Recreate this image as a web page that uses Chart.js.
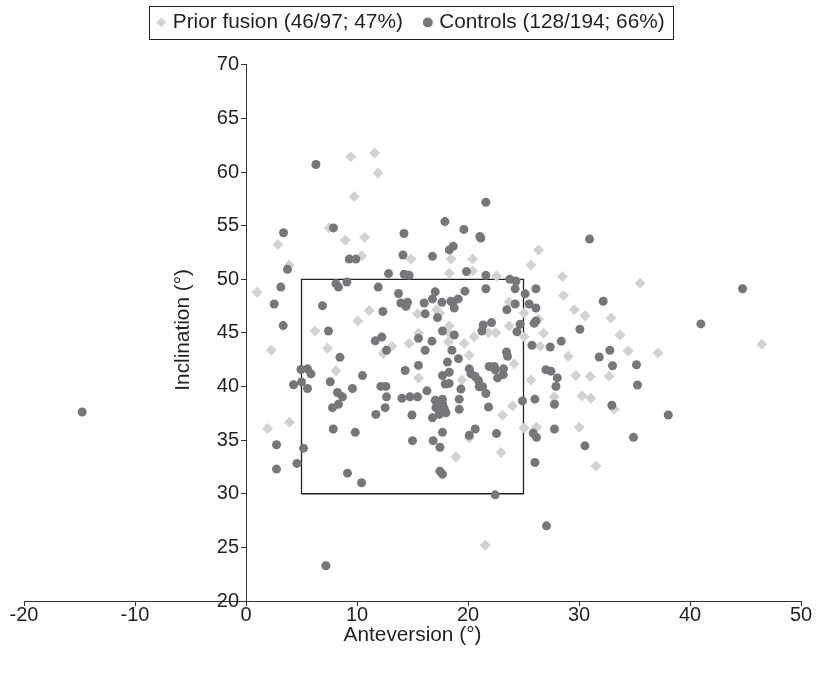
<!DOCTYPE html>
<html>
<head>
<meta charset="utf-8">
<script src="https://cdn.jsdelivr.net/npm/chart.js@4"></script>
<style>
  html, body { margin: 0; padding: 0; background: #fff; }
</style>
</head>
<body>
<canvas id="grafDispersion" width="817" height="674"></canvas>
<script>
// Prior fusion (diamonds)
var priorX = [9.45, 11.58, 11.88, 9.75, 2.87, 7.50, 8.94, 10.68, 10.44, 26.35, 14.86, 18.46, 20.41, 18.31, 3.89, 1.01, 11.10, 10.08, 6.21, 2.27,
  7.34, 12.36, 8.10, 20.41, 22.57, 15.45, 17.16, 17.47, 23.71, 25.06, 18.31, 18.31, 15.54, 14.70, 13.14, 18.24, 19.66, 20.56, 21.85, 22.51,
  23.71, 25.06, 20.11, 24.16, 19.45, 15.54, 24.01, 25.67, 28.51, 35.51, 28.60, 29.57, 30.56, 32.87, 26.35, 26.80, 33.68, 26.50, 34.43, 37.11,
  29.03, 29.72, 31.01, 32.72, 25.67, 27.77, 30.26, 31.07, 33.17, 46.48, 1.94, 3.92, 23.11, 25.06, 20.11, 18.91, 22.96, 21.55, 26.17, 30.02, 31.52];
var priorY = [61.43, 61.78, 59.92, 57.71, 53.24, 54.79, 53.65, 53.93, 52.20, 52.74, 51.88, 51.88, 51.88, 50.56, 51.32, 48.80, 47.10, 46.12, 45.18, 43.38,
  43.57, 43.07, 41.46, 50.78, 50.31, 46.78, 47.16, 46.85, 47.89, 46.85, 45.65, 44.96, 44.96, 44.02, 43.76, 44.17, 44.02, 44.64, 45.02, 45.02,
  45.65, 44.64, 42.91, 42.13, 40.61, 40.80, 38.19, 51.32, 50.25, 49.62, 48.48, 47.16, 46.59, 46.38, 46.28, 44.96, 44.80, 43.76, 43.32, 43.13,
  42.82, 41.02, 40.93, 40.95, 40.61, 39.04, 39.13, 38.91, 37.87, 43.95, 36.08, 36.67, 37.31, 36.14, 35.19, 33.46, 33.84, 25.21, 36.20, 36.20, 32.58];

// Controls (circles)
var controlX = [6.30, 3.38, 7.88, 9.30, 9.90, 21.61, 17.92, 19.63, 21.07, 21.16, 14.23, 18.31, 18.67, 14.14, 16.80, 30.95, 3.74, 12.84, 3.14, 8.10,
  8.33, 9.09, 11.91, 2.54, 6.89, 12.33, 3.35, 7.43, 11.64, 12.24, 12.66, 8.46, 4.95, 5.54, 5.85, 10.50, 4.28, 5.00, 5.54, 7.59,
  9.59, 12.15, 12.60, 8.24, 8.69, 12.66, 7.79, 8.33, 12.54, 14.25, 14.70, 19.86, 21.61, 23.77, 24.32, 24.25, 21.61, 25.15, 13.74, 13.95,
  14.41, 14.55, 16.05, 16.80, 17.05, 17.65, 18.46, 18.62, 19.12, 19.72, 18.76, 16.14, 17.25, 24.25, 23.50, 17.70, 18.76, 15.54, 16.75, 16.14,
  21.25, 21.37, 22.12, 24.41, 24.70, 18.55, 19.14, 23.47, 23.56, 14.34, 15.54, 18.15, 17.70, 18.31, 17.95, 18.31, 20.11, 20.26, 20.65, 20.95,
  21.31, 21.01, 21.61, 21.91, 22.36, 22.45, 23.20, 22.66, 23.17, 19.36, 14.05, 14.77, 15.45, 16.30, 17.05, 17.70, 17.70, 19.21, 17.11, 17.86,
  19.21, 21.85, 24.91, 26.12, 25.51, 26.12, 32.18, 25.96, 26.12, 30.08, 25.76, 27.41, 28.40, 32.78, 31.82, 33.02, 35.18, 27.02, 27.47, 28.04,
  27.92, 35.27, 26.03, 27.79, 32.96, 44.73, 40.98, 11.70, 2.75, 5.18, 7.86, 9.84, 4.59, 2.75, 9.14, 10.41, 7.20, 14.95, 16.80, 17.41,
  18.01, 17.70, 15.00, 16.86, 17.47, 20.65, 20.11, 22.57, 17.47, 17.70, 22.45, 25.87, 26.17, 27.79, 30.53, 34.91, 26.03, 27.07, 38.04, -14.76];
var controlY = [60.70, 54.34, 54.79, 51.88, 51.88, 57.18, 55.38, 54.65, 53.99, 53.84, 54.27, 52.74, 53.08, 52.26, 52.14, 53.75, 50.94, 50.53, 49.27, 49.59,
  49.27, 49.74, 49.27, 47.70, 47.54, 47.00, 45.68, 45.18, 44.26, 44.61, 43.38, 42.72, 41.59, 41.65, 41.18, 41.02, 40.17, 40.43, 39.82, 40.45,
  39.82, 40.01, 40.01, 39.44, 39.04, 39.04, 38.03, 38.35, 38.03, 50.47, 50.37, 50.72, 50.37, 50.00, 49.83, 49.12, 49.12, 48.64, 48.67, 47.79,
  47.47, 47.85, 47.79, 48.17, 48.83, 47.85, 47.95, 47.82, 48.17, 48.89, 47.32, 46.78, 46.43, 47.70, 47.16, 45.18, 44.80, 44.49, 44.23, 43.38,
  45.18, 45.74, 45.96, 45.11, 45.81, 43.38, 42.60, 43.22, 42.82, 41.49, 41.97, 42.28, 41.02, 41.33, 40.24, 40.29, 41.65, 41.18, 40.93, 40.55,
  39.98, 39.98, 39.35, 41.87, 41.87, 41.56, 41.65, 40.80, 41.11, 39.76, 38.91, 39.04, 39.04, 39.60, 38.72, 38.82, 38.40, 38.82, 38.03, 37.93,
  37.87, 38.09, 38.66, 49.12, 47.70, 47.32, 47.95, 45.90, 46.12, 45.34, 43.85, 43.69, 44.23, 43.38, 42.75, 41.94, 42.03, 41.56, 41.43, 40.80,
  40.01, 40.14, 38.82, 38.35, 38.25, 49.12, 45.84, 37.40, 34.57, 34.25, 36.04, 35.73, 32.83, 32.30, 31.92, 31.03, 23.29, 37.34, 37.08, 37.40,
  37.55, 35.73, 34.95, 34.95, 34.34, 36.04, 35.45, 35.61, 32.11, 31.83, 29.90, 35.66, 35.26, 36.04, 34.47, 35.26, 32.92, 27.01, 37.34, 37.62];

// Safe zone box (anteversion 5-25, inclination 30-50)
var boxX = [5, 25, 25, 5, 5];
var boxY = [30, 30, 50, 50, 30];

var legendLabels = ['Prior fusion (46/97; 47%)', 'Controls (128/194; 66%)'];
var xTitle = 'Anteversion (°)';
var yTitle = 'Inclination (°)';

var FONT = '"Liberation Sans", Arial, sans-serif';
var INK = '#231f20';

function pares(xs, ys) {
  return xs.map(function (x, i) { return { x: x, y: ys[i] }; });
}

// Marco de la leyenda, etiquetas y titulo del eje Y
var extras = {
  id: 'extras',
  afterDraw: function (chart) {
    var ctx = chart.ctx;
    var hb = chart.legend.legendHitBoxes;
    if (hb && hb.length) {
      var last = hb[hb.length - 1];
      var l = hb[0].left - 11, r = last.left + last.width + 9;
      var t = hb[0].top - 6, b = hb[0].top + hb[0].height + 6;
      ctx.save();
      ctx.strokeStyle = INK;
      ctx.lineWidth = 1;
      ctx.strokeRect(Math.round(l) + 0.5, Math.round(t) + 0.5, Math.round(r - l), Math.round(b - t));
      ctx.restore();
    }
    var ys = chart.scales.y, xs = chart.scales.x;
    var x0 = xs.getPixelForValue(0);
    ctx.save();
    ctx.font = '20px ' + FONT;
    ctx.fillStyle = INK;
    ctx.textAlign = 'right';
    ctx.textBaseline = 'middle';
    ys.ticks.forEach(function (tk) {
      ctx.fillText(String(tk.value), x0 - 7, ys.getPixelForValue(tk.value));
    });
    ctx.restore();

    var a = chart.chartArea;
    ctx.save();
    ctx.translate(183, (a.top + a.bottom) / 2 - 3);
    ctx.rotate(-Math.PI / 2);
    ctx.font = '20.8px ' + FONT;
    ctx.fillStyle = INK;
    ctx.textAlign = 'center';
    ctx.textBaseline = 'middle';
    ctx.fillText(yTitle, 0, 0);
    ctx.restore();
  }
};

Chart.defaults.font.family = FONT;
Chart.defaults.font.size = 20;
Chart.defaults.color = INK;

var ctxD = document.getElementById('grafDispersion').getContext('2d');
var chart = new Chart(ctxD, {
  type: 'scatter',
  data: {
    datasets: [{
      label: legendLabels[0],
      data: pares(priorX, priorY),
      pointStyle: 'rectRot',
      pointRadius: 5.5,
      backgroundColor: '#d2d2d2',
      borderWidth: 0,
      order: 1
    }, {
      label: legendLabels[1],
      data: pares(controlX, controlY),
      pointStyle: 'circle',
      pointRadius: 4.5,
      backgroundColor: '#77777b',
      borderWidth: 0,
      order: 0
    }, {
      type: 'line',
      label: 'box',
      data: pares(boxX, boxY),
      borderColor: INK,
      borderWidth: 1.3,
      pointRadius: 0,
      fill: false,
      order: 2
    }]
  },
  options: {
    responsive: false,
    animation: false,
    layout: { padding: { left: 24, right: 16, top: -12, bottom: 26 } },
    plugins: {
      tooltip: { enabled: false },
      legend: {
        position: 'top',
        weight: 3000,
        labels: {
          usePointStyle: true,
          boxWidth: 2,
          boxHeight: 7,
          padding: 24,
          font: { size: 20.8 },
          color: INK,
          filter: function (item) { return item.datasetIndex < 2; },
          sort: function (a, b) { return a.datasetIndex - b.datasetIndex; }
        }
      },
      // separador vacio entre leyenda y grafico
      title: { display: true, text: '', font: { size: 1, lineHeight: 1 }, padding: { top: 0, bottom: 21 } }
    },
    scales: {
      x: {
        type: 'linear',
        position: 'bottom',
        min: -20,
        max: 50,
        ticks: { stepSize: 10, padding: -3, color: INK },
        grid: { drawOnChartArea: false, drawTicks: true, tickLength: 5, color: '#333' },
        border: { color: '#333', width: 1 },
        title: { display: true, text: xTitle, font: { size: 20.8 }, padding: { top: -4, bottom: 0 }, color: INK },
        afterFit: function (scale) { scale.height = 47; }
      },
      y: {
        type: 'linear',
        position: { x: 0 },
        min: 20,
        max: 70,
        ticks: { stepSize: 5, display: false },
        grid: { drawOnChartArea: false, drawTicks: true, tickLength: 5, color: '#333' },
        border: { color: '#333', width: 1 }
      }
    }
  },
  plugins: [extras]
});
</script>
</body>
</html>
